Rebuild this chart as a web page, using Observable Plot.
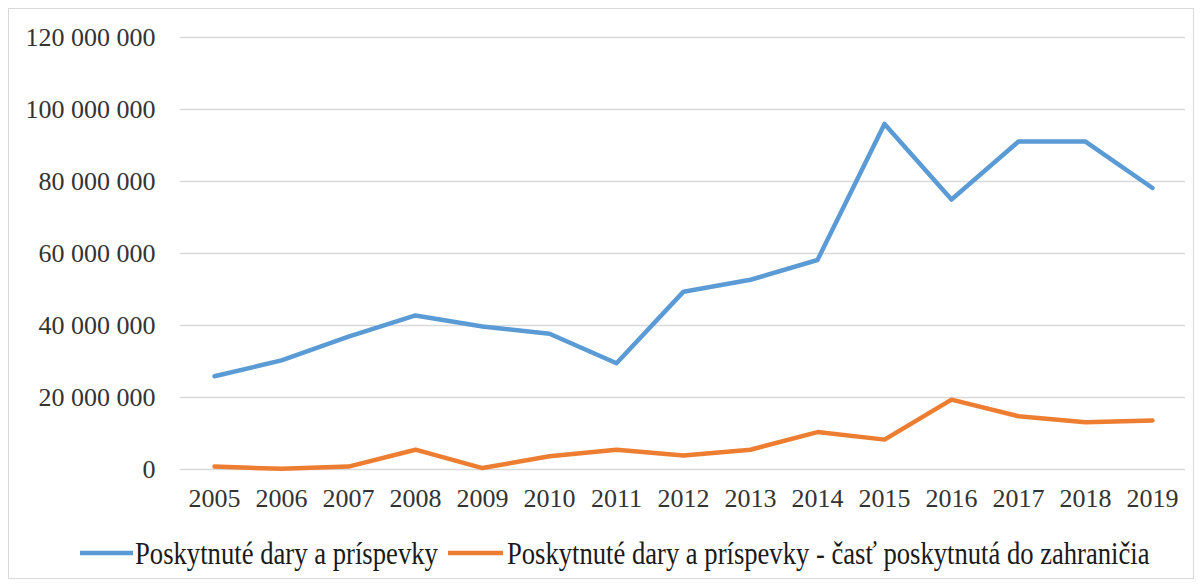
<!DOCTYPE html>
<html>
<head>
<meta charset="utf-8">
<script src="https://cdn.jsdelivr.net/npm/d3@7"></script>
<script src="https://cdn.jsdelivr.net/npm/@observablehq/plot@0.6"></script>
<style>
  html, body { margin: 0; padding: 0; background: #fff; }
  #wrap { position: relative; width: 1202px; height: 587px; overflow: hidden; }
  #frame { position: absolute; left: 8px; top: 8px; width: 1186px; height: 571px; border: 1px solid #d9d9d9; box-sizing: border-box; }
  #chart { position: absolute; left: 0; top: 0; }
  #chart svg, #chart svg text { font-family: 'Liberation Serif', 'Times New Roman', serif !important; font-size: 26px !important; }
  #legend { position: absolute; left: 0; top: 531px; width: 1202px; height: 44px; }
  #legend text { font-family: 'Liberation Serif', 'Times New Roman', serif; font-size: 31px; }
</style>
</head>
<body>
<div id="wrap">
  <div id="frame"></div>
  <div id="chart"></div>
  <div id="legend"></div>
</div>
<script>
const years = ["2005","2006","2007","2008","2009","2010","2011","2012","2013","2014","2015","2016","2017","2018","2019"];
const donations = [25.9e6, 30.3e6, 36.9e6, 42.8e6, 39.7e6, 37.7e6, 29.5e6, 49.4e6, 52.7e6, 58.2e6, 96.0e6, 75.0e6, 91.1e6, 91.1e6, 78.2e6];
const abroad = [0.8e6, 0.2e6, 0.8e6, 5.5e6, 0.4e6, 3.7e6, 5.5e6, 3.9e6, 5.5e6, 10.4e6, 8.3e6, 19.4e6, 14.8e6, 13.1e6, 13.6e6];
const seriesNames = ["Poskytnuté dary a príspevky", "Poskytnuté dary a príspevky - časť poskytnutá do zahraničia"];
const seriesColors = ["#5b9bd5", "#ed7d31"];
const yTicks = [0, 20e6, 40e6, 60e6, 80e6, 100e6, 120e6];

const rows = [];
years.forEach((y, i) => {
  rows.push({year: y, value: donations[i], series: seriesNames[0]});
  rows.push({year: y, value: abroad[i], series: seriesNames[1]});
});

const fmt = v => d3.format(",")(v).replace(/,/g, " ");

const plot = Plot.plot({
  width: 1202,
  height: 520,
  marginLeft: 180,
  marginRight: 17,
  marginTop: 37,
  marginBottom: 51,
  style: {background: "transparent", color: "#333"},
  x: {type: "point", domain: years, padding: 0.5, label: null},
  y: {domain: [0, 120e6], label: null},
  color: {domain: seriesNames, range: seriesColors},
  marks: [
    Plot.gridY(yTicks, {stroke: "#d9d9d9", strokeOpacity: 1, strokeWidth: 1.5}),
    Plot.axisY(yTicks, {tickSize: 0, tickPadding: 25, tickFormat: fmt, label: null, fill: "#333"}),
    Plot.axisX({tickSize: 0, tickPadding: 19, label: null, fill: "#333"}),
    Plot.line(rows, {x: "year", y: "value", z: "series", stroke: "series", strokeWidth: 4.5, strokeLinejoin: "round", strokeLinecap: "round"})
  ]
});
document.getElementById("chart").appendChild(plot);

// legend
const lg = d3.select("#legend").append("svg").attr("width", 1202).attr("height", 44);
const items = [
  {name: seriesNames[0], color: seriesColors[0], x0: 80, len: 53, tx: 135, tw: 303},
  {name: seriesNames[1], color: seriesColors[1], x0: 448, len: 55, tx: 507, tw: 643}
];
items.forEach(it => {
  lg.append("line").attr("x1", it.x0).attr("x2", it.x0 + it.len).attr("y1", 22).attr("y2", 22)
    .attr("stroke", it.color).attr("stroke-width", 4.5);
  const g = lg.append("g");
  const t = g.append("text").attr("x", 0).attr("y", 0).attr("dy", "0.35em")
    .attr("fill", "#1a1a1a").text(it.name);
  const w = t.node().getComputedTextLength();
  g.attr("transform", `translate(${it.tx},22) scale(${it.tw / w},1)`);
});
</script>
</body>
</html>
